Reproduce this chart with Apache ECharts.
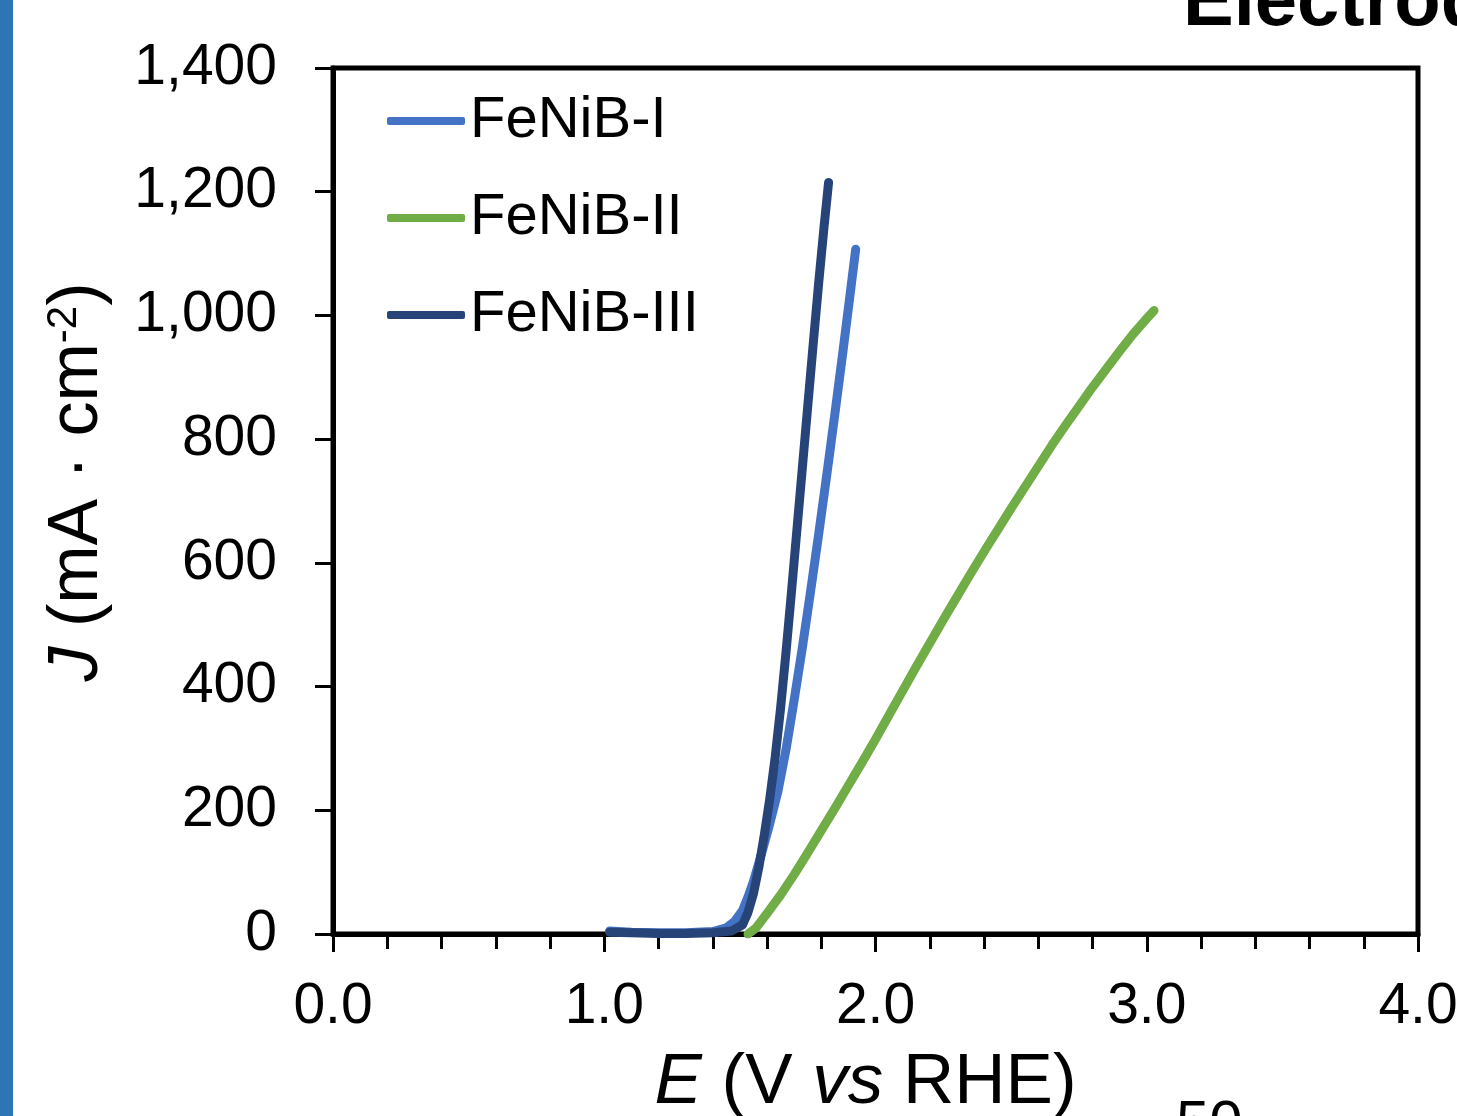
<!DOCTYPE html>
<html>
<head>
<meta charset="utf-8">
<script src="https://cdn.jsdelivr.net/npm/echarts@6/dist/echarts.min.js"></script>
<style>
html,body{margin:0;padding:0;background:#fff;}
#chart{width:1457px;height:1116px;}
</style>
</head>
<body>
<div id="chart"></div>
<script>
// ---- data (E in V vs RHE, J in mA/cm2) ----
const seriesNames = ['FeNiB-I', 'FeNiB-II', 'FeNiB-III'];
const seriesColors = ['#4472C4', '#70AD47', '#264478'];

const feNiB_I = [
  [1.02,5],[1.10,3],[1.20,2],[1.30,2],[1.40,4],[1.45,10],[1.48,20],[1.51,38],[1.53,60],
  [1.55,85],[1.58,130],[1.61,178],[1.64,230],[1.67,298],[1.70,378],[1.73,462],[1.76,552],
  [1.79,645],[1.82,741],[1.85,840],[1.88,942],[1.91,1047],[1.927,1107]
];
const feNiB_II = [
  [1.53,0],[1.56,10],[1.60,33],[1.65,63],[1.70,96],[1.75,131],[1.80,167],[1.85,203],
  [1.90,240],[1.95,277],[2.00,315],[2.05,354],[2.10,393],[2.15,432],[2.20,470],[2.25,508],
  [2.30,545],[2.35,582],[2.40,618],[2.45,653],[2.50,688],[2.55,722],[2.60,756],[2.65,790],
  [2.70,822],[2.75,853],[2.80,884],[2.85,913],[2.90,942],[2.95,970],[3.00,995],[3.027,1008]
];
const feNiB_III = [
  [1.02,3],[1.10,2],[1.20,1],[1.30,1],[1.40,2],[1.47,5],[1.51,15],[1.53,35],[1.55,65],
  [1.57,108],[1.59,160],[1.61,218],[1.63,285],[1.65,365],[1.67,455],[1.69,552],[1.71,652],
  [1.73,752],[1.75,852],[1.77,952],[1.79,1050],[1.81,1142],[1.827,1215]
];
const seriesData = [feNiB_I, feNiB_II, feNiB_III];

const xMin = 0, xMax = 4, xStep = 1;
const yMin = 0, yMax = 1400, yStep = 200;

const FONT = '"Liberation Sans", Arial, sans-serif';

const chart = echarts.init(document.getElementById('chart'), null, {renderer: 'canvas'});

const option = {
  backgroundColor: '#ffffff',
  animation: false,
  grid: {
    left: 333, right: 39, top: 68, bottom: 182,
    containLabel: false,
    outerBoundsMode: 'none',
    show: true, borderColor: '#000', borderWidth: 5, backgroundColor: 'transparent'
  },
  legend: {
    show: true,
    orient: 'vertical',
    left: 387, top: 91,
    padding: 0,
    itemGap: 37,
    itemWidth: 78, itemHeight: 8,
    icon: 'roundRect',
    data: seriesNames.map(n => ({name: n, icon: 'roundRect'})),
    textStyle: {fontFamily: FONT, fontSize: 58, color: '#000', lineHeight: 60, padding: [0,0,0,0]}
  },
  xAxis: {
    type: 'value',
    min: xMin, max: xMax, interval: xStep,
    name: '{i|E} ({n|V }{i|vs}{n| RHE)}',
    nameLocation: 'middle',
    nameGap: 114,
    nameTextStyle: {
      fontFamily: FONT, fontSize: 71, color: '#000',
      padding: [0, 20, 0, 0],
      rich: {
        i: {fontFamily: FONT, fontSize: 71, fontStyle: 'italic', color: '#000'},
        n: {fontFamily: FONT, fontSize: 71, color: '#000'}
      }
    },
    axisLine: {show: true, onZero: false, lineStyle: {color: '#000', width: 5}},
    axisTick: {show: true, inside: false, length: 18, lineStyle: {color: '#000', width: 3}},
    minorTick: {show: true, splitNumber: 5, length: 15, lineStyle: {color: '#000', width: 3}},
    axisLabel: {
      margin: 45, fontFamily: FONT, fontSize: 57, color: '#000',
      formatter: v => v.toFixed(1)
    },
    splitLine: {show: false},
    minorSplitLine: {show: false}
  },
  yAxis: {
    type: 'value',
    min: yMin, max: yMax, interval: yStep,
    name: '{i|J} (mA · cm{s|-2})',
    nameLocation: 'middle',
    nameRotate: 90,
    nameGap: 220,
    nameTextStyle: {
      fontFamily: FONT, fontSize: 70, color: '#000',
      padding: [0, 0, 0, 38],
      rich: {
        i: {fontFamily: FONT, fontSize: 70, fontStyle: 'italic', color: '#000'},
        s: {fontFamily: FONT, fontSize: 42, color: '#000', verticalAlign: 'top', lineHeight: 70}
      }
    },
    axisLine: {show: true, onZero: false, lineStyle: {color: '#000', width: 5}},
    axisTick: {show: true, inside: false, length: 18, lineStyle: {color: '#000', width: 3}},
    axisLabel: {
      margin: 56, fontFamily: FONT, fontSize: 57, color: '#000',
      formatter: v => v.toLocaleString('en-US')
    },
    splitLine: {show: false}
  },
  series: seriesNames.map((name, i) => ({
    name: name,
    type: 'line',
    data: seriesData[i],
    showSymbol: false,
    symbol: 'none',
    smooth: false,
    color: seriesColors[i],
    lineStyle: {color: seriesColors[i], width: 9, cap: 'round', join: 'round'},
    z: 3 + i
  })),
  graphic: [
    {type: 'rect', left: 0, top: 0, shape: {width: 13, height: 1116}, style: {fill: '#2E75B6'}},
    {type: 'text', x: 1183, y: 4, style: {text: 'Electrode', fontFamily: FONT, fontSize: 76, fontWeight: 'bold', fill: '#000', verticalAlign: 'middle'}},
    {type: 'text', x: 1176, y: 1095, style: {text: '50', fontFamily: FONT, fontSize: 60, fill: '#000', verticalAlign: 'top'}}
  ]
};
chart.setOption(option);
</script>
</body>
</html>
